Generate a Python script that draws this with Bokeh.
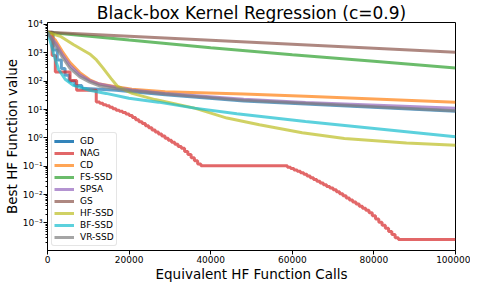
from bokeh.plotting import figure
from bokeh.models import (Range1d, FixedTicker, CustomJSTickFormatter, Legend,
                          LegendItem, NumeralTickFormatter)
from bokeh.embed import file_html
from bokeh.resources import INLINE

# ---------------- data ----------------
x_ticks = [0, 20000, 40000, 60000, 80000, 100000]
y_ticks = [1e-3, 1e-2, 1e-1, 1e0, 1e1, 1e2, 1e3, 1e4]

labels = ["GD", "NAG", "CD", "FS-SSD", "SPSA", "GS", "HF-SSD", "BF-SSD", "VR-SSD"]

gd_step_x = [0, 1400, 2400, 3400, 4300, 5300, 6700, 8400]
gd_step_y = [5300, 1250, 560, 280, 160, 100, 70, 56]
gd_tail_x = [8400, 12740, 16830, 20670, 28850, 48080, 63230, 100000]
gd_tail_y = [56, 52, 48, 42, 33, 20, 15.8, 8.7]

nag_x = [0, 1130, 1920, 5530, 7140, 11950,
         12800, 13600, 14400, 15200, 16000, 16800, 17600, 18400, 19200, 20000,
         20800, 21600, 22400, 23200, 24000, 24800, 25600, 26400, 27200, 28000,
         28800, 29600, 30400, 31200, 32000, 32800,
         33600, 34400, 35200, 36000, 36800, 37600,
         58000, 58800, 59600, 60400, 61200, 62000,
         62800, 63600, 64400, 65200, 66000, 66800, 67600, 68400, 69200, 70000,
         70800, 71600, 72400, 73200, 74000, 74800, 75600, 76400, 77200, 78000,
         78800, 79600, 80400, 81200, 82000, 82800, 83600, 84400, 85200, 86000,
         100000]
nag_y = [5300, 810, 210, 105, 48, 18.6,
         16.6, 14.8, 13.5, 12.0, 10.7, 9.5, 8.7, 7.8, 6.9, 6.2,
         5.2, 4.4, 3.7, 3.2, 2.7, 2.26, 1.9, 1.62, 1.38, 1.16,
         0.98, 0.83, 0.70, 0.60, 0.50, 0.43,
         0.33, 0.257, 0.20, 0.155, 0.12, 0.105,
         0.105, 0.093, 0.083, 0.074, 0.066, 0.059,
         0.052, 0.045, 0.039, 0.034, 0.0295, 0.0257, 0.0224, 0.0195, 0.017, 0.0148,
         0.0126, 0.0107, 0.0091, 0.0076, 0.0065, 0.0055, 0.0047, 0.0039, 0.0033, 0.0028,
         0.0023, 0.0018, 0.00138, 0.00107, 0.00083, 0.00065, 0.0005, 0.00039, 0.0003, 0.00026,
         0.00026]

cd_x = [0, 1920, 3610, 5530, 7930, 10340, 12740, 16830, 20670, 28850, 48080, 63230, 100000]
cd_y = [5300, 2800, 1120, 450, 200, 112, 79, 63, 52, 42, 35.5, 29.5, 18.2]

fs_x = [0, 20000, 40000, 60000, 80000, 100000]
fs_y = [5300, 2800, 1520, 850, 500, 290]

spsa_x = [0, 1920, 3610, 5530, 7930, 10340, 12740, 16830, 20670, 28850, 48080, 63230, 100000]
spsa_y = [5300, 2240, 890, 355, 166, 105, 79, 60, 49, 37, 23, 17.8, 11]

gs_x = [0, 20000, 40000, 60000, 80000, 100000]
gs_y = [5300, 3800, 2750, 2000, 1450, 1040]

hf_x = [0, 3130, 6320, 10340, 12000, 13530, 15550, 17140, 20750, 26370, 36060, 43990, 51930,
        62430, 72770, 87990, 100000]
hf_y = [5300, 3800, 1950, 910, 560, 300, 125, 66, 37, 22.4, 11.2, 5.0, 2.9,
        1.51, 0.95, 0.66, 0.55]

bf_x = [0, 720, 1510, 2720, 4330, 6320, 10340, 14350, 19950, 27170, 36060, 46400, 63230, 100000]
bf_y = [5300, 2500, 910, 257, 117, 71, 48, 37, 25, 18.2, 11.2, 7.1, 3.8, 1.1]

vr_x = [0, 1920, 3610, 5530, 7930, 10340, 12740, 16830, 20670, 28850, 48080, 63230, 100000]
vr_y = [5300, 1780, 710, 280, 141, 93, 68, 54, 46, 35.5, 21.4, 16.6, 9.1]

colors = ["#1f77b4", "#d62728", "#ff7f0e", "#2ca02c", "#9467bd",
          "#8c564b", "#bcbd22", "#17becf", "#7f7f7f"]

# ---------------- figure ----------------
FONT = "DejaVu Sans"
p = figure(width=470, height=284, y_axis_type="log",
           x_range=Range1d(0, 100000), y_range=Range1d(1.07e-4, 1.17e4),
           output_backend="svg", toolbar_location=None,
           title="Black-box Kernel Regression (c=0.9)")
p.min_border_right = 15
p.min_border_top = 0
p.min_border_bottom = 0
p.min_border_left = 0

p.title.text_font = FONT
p.title.text_font_size = "17px"
p.title.text_font_style = "normal"
p.title.text_color = "black"
p.title.align = "center"
p.title.standoff = 0
p.title.offset = 0

p.xgrid.visible = False
p.ygrid.visible = False
p.outline_line_color = "black"
p.outline_line_alpha = 1

for ax in (p.xaxis[0], p.yaxis[0]):
    ax.axis_label_text_font = FONT
    ax.axis_label_text_font_size = "13.5px"
    ax.axis_label_text_font_style = "normal"
    ax.axis_label_text_color = "black"
    ax.major_label_text_font = FONT
    ax.major_label_text_font_size = "9px"
    ax.major_label_text_color = "black"
    ax.major_tick_in = 0
    ax.major_tick_out = 4
    ax.minor_tick_in = 0
    ax.minor_tick_out = 2
    ax.axis_line_color = "black"
    ax.major_tick_line_color = "black"
    ax.minor_tick_line_color = "black"
    ax.major_label_standoff = 1
    ax.axis_label_standoff = 0

p.xaxis.axis_label = "Equivalent HF Function Calls"
p.yaxis.axis_label = "Best HF Function value"
p.xaxis.ticker = FixedTicker(ticks=x_ticks, minor_ticks=[])
p.xaxis.formatter = NumeralTickFormatter(format="0")

minor = []
for d in range(-4, 4):
    for m in range(2, 10):
        minor.append(m * 10.0 ** d)
p.yaxis.ticker = FixedTicker(ticks=y_ticks, minor_ticks=minor)
p.yaxis.formatter = CustomJSTickFormatter(code="""
const e = Math.round(Math.log10(tick));
const sup = {'-':'\u207b','0':'\u2070','1':'\u00b9','2':'\u00b2','3':'\u00b3','4':'\u2074',
             '5':'\u2075','6':'\u2076','7':'\u2077','8':'\u2078','9':'\u2079'};
return '10' + String(e).split('').map(c => sup[c]).join('');
""")

LW = 3
AL = 0.7
items = []

r1 = p.step(gd_step_x, gd_step_y, mode="after", line_color=colors[0], line_width=LW, line_alpha=AL)
r2 = p.line(gd_tail_x, gd_tail_y, line_color=colors[0], line_width=LW, line_alpha=AL)
items.append(LegendItem(label=labels[0], renderers=[r1, r2]))

r = p.step(nag_x, nag_y, mode="after", line_color=colors[1], line_width=LW, line_alpha=AL)
items.append(LegendItem(label=labels[1], renderers=[r]))

series = [(cd_x, cd_y), (fs_x, fs_y), (spsa_x, spsa_y), (gs_x, gs_y),
          (hf_x, hf_y), (bf_x, bf_y), (vr_x, vr_y)]
for i, (xs, ys) in enumerate(series):
    r = p.line(xs, ys, line_color=colors[i + 2], line_width=LW, line_alpha=AL)
    items.append(LegendItem(label=labels[i + 2], renderers=[r]))

legend = Legend(items=items, location="bottom_left")
legend.label_text_font = FONT
legend.label_text_font_size = "9px"
legend.label_text_color = "black"
legend.label_height = 12
legend.glyph_height = 12
legend.glyph_width = 20
legend.spacing = 0
legend.padding = 2
legend.margin = 4
legend.label_standoff = 6
legend.border_line_color = "#cccccc"
legend.border_line_width = 1
legend.border_radius = 3
legend.background_fill_alpha = 0.8
p.add_layout(legend)

open("out.html", "w").write(file_html(p, INLINE))
